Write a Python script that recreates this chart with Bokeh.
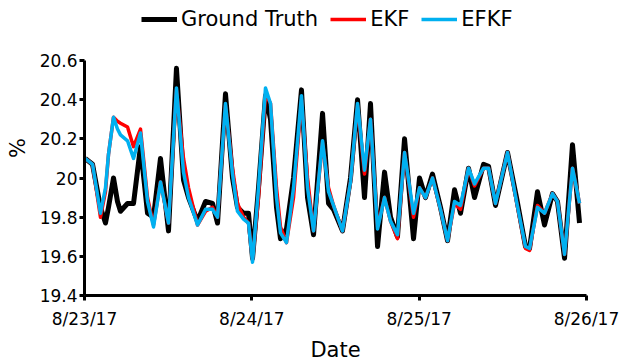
from bokeh.plotting import figure
from bokeh.models import FixedTicker, Legend, LegendItem, ColumnDataSource, Range1d
from bokeh.embed import file_html
from bokeh.resources import INLINE

# hours since 8/23/17 00:00
hours = [0.1, 1.15, 2.29, 3.01, 3.44, 4.16, 4.73, 5.16, 6.17, 7.03,
         8.03, 9.04, 9.90, 10.90, 12.05, 13.19, 14.20, 14.92, 16.21, 17.36,
         18.36, 19.08, 20.22, 21.23, 21.94, 22.81, 23.52, 24.10, 24.96, 25.96,
         26.68, 27.54, 28.11, 28.97, 29.98, 31.12, 31.99, 32.85, 34.14, 35.00,
         35.71, 37.00, 38.15, 39.16, 40.16, 41.02, 42.03, 43.03, 43.89, 44.89,
         45.90, 47.19, 48.05, 48.91, 49.91, 51.06, 52.07, 53.07, 53.93, 55.08,
         55.94, 57.23, 57.95, 58.95, 60.67, 61.96, 63.25, 63.83, 64.97, 65.98,
         67.12, 67.84, 68.85, 69.99, 71.00]

ground_truth = [20.10, 20.07, 19.85, 19.77, 19.85, 20.00, 19.88, 19.83, 19.87, 19.87,
                20.16, 19.82, 19.80, 20.10, 19.73, 20.56, 19.99, 19.90, 19.78, 19.88,
                19.87, 19.77, 20.43, 20.00, 19.85, 19.82, 19.82, 19.59, 19.95, 20.42,
                20.30, 19.85, 19.69, 19.74, 20.00, 20.45, 19.90, 19.71, 20.33, 19.87,
                19.84, 19.73, 20.00, 20.40, 19.90, 20.38, 19.65, 20.03, 19.80, 19.70,
                20.20, 19.69, 20.00, 19.90, 20.02, 19.85, 19.68, 19.94, 19.82, 20.05,
                19.90, 20.07, 20.06, 19.86, 20.13, 19.90, 19.65, 19.64, 19.93, 19.76,
                19.92, 19.88, 19.59, 20.17, 19.77]

ekf = [20.10, 20.07, 19.80, 19.93, 20.12, 20.31, 20.29, 20.28, 20.26, 20.16,
       20.25, 19.90, 19.76, 19.98, 19.77, 20.45, 20.10, 19.95, 19.76, 19.83,
       19.85, 19.80, 20.37, 20.05, 19.87, 19.80, 19.77, 19.58, 19.90, 20.43,
       20.38, 19.95, 19.75, 19.67, 19.90, 20.40, 20.00, 19.73, 20.18, 19.95,
       19.86, 19.73, 19.98, 20.37, 20.02, 20.30, 19.75, 19.90, 19.78, 19.69,
       20.13, 19.80, 19.95, 19.90, 20.00, 19.84, 19.68, 19.87, 19.84, 20.05,
       19.96, 20.05, 20.05, 19.87, 20.13, 19.88, 19.64, 19.63, 19.86, 19.82,
       19.92, 19.88, 19.61, 20.05, 19.87]

efkf = [20.10, 20.07, 19.82, 19.95, 20.12, 20.31, 20.25, 20.22, 20.19, 20.10,
        20.23, 19.88, 19.75, 19.98, 19.77, 20.46, 20.03, 19.90, 19.76, 19.84,
        19.84, 19.80, 20.38, 20.02, 19.83, 19.79, 19.77, 19.57, 19.95, 20.46,
        20.38, 19.90, 19.72, 19.67, 19.95, 20.42, 19.95, 19.73, 20.19, 19.93,
        19.86, 19.73, 19.98, 20.38, 20.04, 20.30, 19.74, 19.90, 19.78, 19.71,
        20.13, 19.82, 19.95, 19.90, 20.00, 19.84, 19.68, 19.88, 19.86, 20.05,
        19.97, 20.05, 20.05, 19.87, 20.13, 19.88, 19.65, 19.64, 19.85, 19.82,
        19.92, 19.88, 19.61, 20.05, 19.87]

x_tick_hours = [0, 24, 48, 72]
x_tick_labels = ["8/23/17", "8/24/17", "8/25/17", "8/26/17"]
y_ticks = [19.4, 19.6, 19.8, 20.0, 20.2, 20.4, 20.6]
y_tick_labels = ["19.4", "19.6", "19.8", "20", "20.2", "20.4", "20.6"]

FONT = "DejaVu Sans"

# axis spans 19.4..20.6 over 235 px; the frame extends 60 px higher to host the legend
FRAME_H = 295
AXIS_H = 235
y_lo, y_hi = y_ticks[0], y_ticks[-1]
y_top = y_lo + (y_hi - y_lo) * FRAME_H / AXIS_H

p = figure(frame_width=502, frame_height=FRAME_H, output_backend="svg", toolbar_location=None,
           x_range=Range1d(0, 72), y_range=Range1d(y_lo, y_top),
           min_border_left=84, min_border_right=38, min_border_top=0, min_border_bottom=65)
p.outline_line_color = None
p.xgrid.visible = False
p.ygrid.visible = False
p.background_fill_color = "white"
p.border_fill_color = "white"

src = ColumnDataSource(dict(x=hours, gt=ground_truth, ekf=ekf, efkf=efkf))
r_gt = p.line("x", "gt", source=src, line_color="black", line_width=5, line_join="round")
r_ekf = p.line("x", "ekf", source=src, line_color="#FF0000", line_width=3.5, line_join="round")
r_efkf = p.line("x", "efkf", source=src, line_color="#00B0F0", line_width=3.5, line_join="round")

for ax in (p.xaxis[0], p.yaxis[0]):
    ax.axis_line_width = 3
    ax.axis_line_color = "black"
    ax.major_tick_line_width = 3
    ax.major_tick_line_color = "black"
    ax.major_tick_out = 5
    ax.major_tick_in = 0
    ax.minor_tick_line_color = None
    ax.major_label_text_font = FONT
    ax.major_label_text_font_size = "17px"
    ax.major_label_text_color = "black"
    ax.axis_label_text_font = FONT
    ax.axis_label_text_font_size = "21px"
    ax.axis_label_text_font_style = "normal"
    ax.axis_label_text_color = "black"

p.xaxis.ticker = FixedTicker(ticks=x_tick_hours)
p.xaxis.major_label_overrides = {h: l for h, l in zip(x_tick_hours, x_tick_labels)}
p.xaxis.axis_label = "Date"
p.xaxis.major_label_standoff = 8
p.xaxis.axis_label_standoff = 6

p.yaxis.ticker = FixedTicker(ticks=y_ticks)
p.yaxis.bounds = (y_lo, y_hi)
p.yaxis.major_label_overrides = {t: l for t, l in zip(y_ticks, y_tick_labels)}
p.yaxis.axis_label = "%"
p.yaxis.major_label_standoff = 2
p.yaxis.axis_label_standoff = 7

legend = Legend(items=[LegendItem(label="Ground Truth", renderers=[r_gt]),
                       LegendItem(label="EKF", renderers=[r_ekf]),
                       LegendItem(label="EFKF", renderers=[r_efkf])],
                orientation="horizontal", location=(57, 264),
                label_text_font=FONT, label_text_font_size="21px",
                label_text_color="black",
                glyph_width=36, glyph_height=20, label_standoff=4, spacing=12,
                padding=0, margin=0, border_line_color=None, background_fill_alpha=0)
p.add_layout(legend)

open("out.html", "w").write(file_html(p, INLINE))
